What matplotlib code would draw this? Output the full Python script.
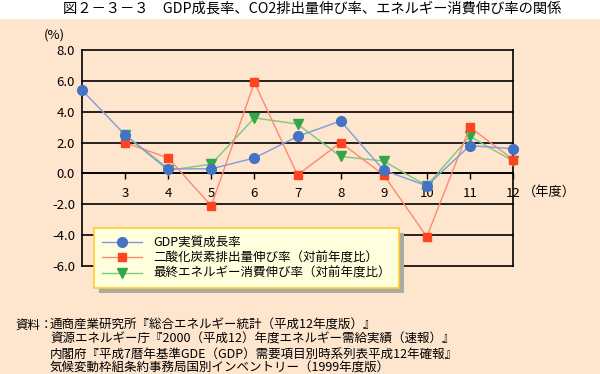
import matplotlib.pyplot as plt
from matplotlib.patches import Rectangle

plt.rcParams['font.family'] = ['Noto Sans CJK JP', 'DejaVu Sans']

# 年度（平成）
years = [2, 3, 4, 5, 6, 7, 8, 9, 10, 11, 12]
gdp = [5.4, 2.5, 0.3, 0.3, 1.0, 2.4, 3.4, 0.2, -0.8, 1.8, 1.6]
co2_years = [3, 4, 5, 6, 7, 8, 9, 10, 11, 12]
co2 = [2.0, 1.0, -2.1, 5.9, -0.1, 2.0, -0.1, -4.1, 3.0, 0.9]
energy_years = [3, 4, 5, 6, 7, 8, 9, 10, 11, 12]
energy = [2.5, 0.2, 0.6, 3.6, 3.2, 1.1, 0.8, -0.8, 2.4, 0.8]

labels = ['GDP実質成長率',
          '二酸化炭素排出量伸び率（対前年度比）',
          '最終エネルギー消費伸び率（対前年度比）']
yticks = [8, 6, 4, 2, 0, -2, -4, -6]
xticks = [3, 4, 5, 6, 7, 8, 9, 10, 11, 12]

title = '図２－３－３　GDP成長率、CO2排出量伸び率、エネルギー消費伸び率の関係'
notes = ['通商産業研究所『総合エネルギー統計（平成12年度版）』',
         '資源エネルギー庁『2000（平成12）年度エネルギー需給実績（速報）』',
         '内閣府『平成7暦年基準GDE（GDP）需要項目別時系列表平成12年確報』',
         '気候変動枠組条約事務局国別インベントリー（1999年度版）']

bg = '#FDE5CE'
W, H = 600, 374
fig = plt.figure(figsize=(6, 3.74), dpi=100)
fig.patch.set_facecolor(bg)
# 上部の白い帯
fig.add_artist(Rectangle((0, 1 - 19 / H), 1, 19 / H, transform=fig.transFigure,
                         facecolor='white', edgecolor='none', zorder=0))
fig.text(0.52, 1 - 9 / H, title, ha='center', va='center', fontsize=10.3)

ax = fig.add_axes([82 / W, 108 / H, 431 / W, 216 / H])
ax.set_facecolor('none')
ax.set_xlim(2, 12)
ax.set_ylim(-6, 8)

for y in yticks:
    ax.axhline(y, color='black', lw=1.2, zorder=1, clip_on=False)

ax.spines['top'].set_visible(False)
ax.spines['left'].set_linewidth(1.2)
ax.spines['right'].set_linewidth(1.2)
ax.spines['bottom'].set_position(('data', 0))
ax.spines['bottom'].set_linewidth(1.2)

ax.set_yticks(yticks)
ax.set_yticklabels([f'{v:.1f}' for v in yticks], fontsize=9.5)
ax.tick_params(axis='y', length=0, pad=5)

ax.set_xticks(xticks)
ax.set_xticklabels([str(v) for v in xticks], fontsize=9.5)
ax.tick_params(axis='x', direction='out', length=4, width=1, pad=6)

ax.text(12.22, -1.25, '（年度）', fontsize=9.5, ha='left', va='center')
fig.text(44 / W, 1 - 35 / H, '(%)', fontsize=9.5, ha='left', va='center')

l1, = ax.plot(years, gdp, color='#7E9CDA', lw=1, marker='o', ms=7,
              mfc='#4472C4', mec='#4472C4', zorder=5, clip_on=False)
l2, = ax.plot(co2_years, co2, color='#FF8870', lw=1, marker='s', ms=6,
              mfc='#FF4422', mec='#FF4422', zorder=4, clip_on=False)
l3, = ax.plot(energy_years, energy, color='#7ACB7A', lw=1, marker='v', ms=7,
              mfc='#33A64A', mec='#33A64A', zorder=3, clip_on=False)

leg = fig.legend([l1, l2, l3], labels, loc='lower left',
                 bbox_to_anchor=(94 / W, 86 / H), borderaxespad=0,
                 fontsize=9, handlelength=3.2, handletextpad=0.9,
                 labelspacing=0.2, borderpad=0.65, fancybox=False,
                 framealpha=1, facecolor='#FFFFDD', edgecolor='#FFCC33')
leg.get_frame().set_linewidth(1.2)
leg.set_zorder(10)

fig.canvas.draw()
bb = leg.get_window_extent()
fig.add_artist(Rectangle(((bb.x0 + 5) / W, (bb.y0 - 5) / H), bb.width / W, bb.height / H,
                         transform=fig.transFigure, facecolor='#AAAAA0',
                         edgecolor='none', zorder=9))

fig.text(15 / W, 1 - 325 / H, '資料：', fontsize=9, ha='left', va='center')
for i, n in enumerate(notes):
    fig.text(50 / W, 1 - (325 + i * 14.5) / H, n, fontsize=9, ha='left', va='center')

fig.savefig('out.png', dpi=100, facecolor=fig.get_facecolor())
